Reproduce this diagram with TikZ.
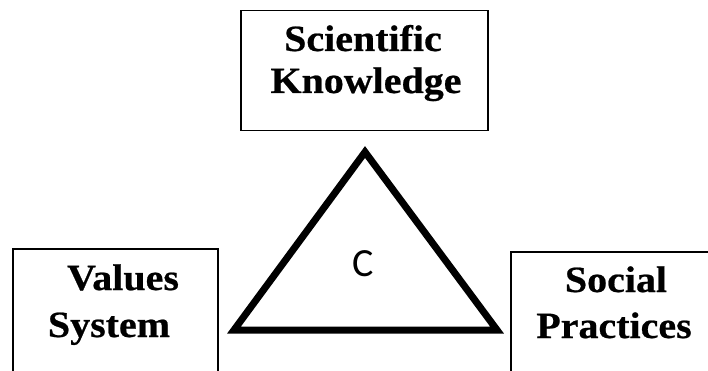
\documentclass[tikz,border=0pt]{standalone}
\usepackage{fontspec}
\setmainfont{Liberation Serif}
\newfontfamily\lblfont{Liberation Serif}[FakeStretch=1.08,FakeBold=0.6]
\newfontfamily\cfont{Carlito}
\begin{document}
\begin{tikzpicture}[x=1pt,y=-1pt,
  boxstyle/.style={draw=black,line width=1.8pt,rectangle,inner sep=0pt},
  lbl/.style={anchor=base,inner sep=0pt,font=\lblfont\bfseries\fontsize{37}{44}\selectfont},
  tri/.style={draw=black,line width=7pt,line join=miter}]
\clip (0,0) rectangle (708,371);
\fill[white] (0,0) rectangle (708,371);
% boxes
\node[boxstyle,minimum width=247pt,minimum height=120pt] (sk) at (364.5,70.5) {};
\node[boxstyle,minimum width=205pt,minimum height=160pt] (vs) at (115.5,329) {};
\node[boxstyle,minimum width=240pt,minimum height=160pt] (sp) at (631,332) {};
% labels
\node[lbl] (sk1) at (363,51) {Scientific};
\node[lbl] (sk2) at (366,93) {Knowledge};
\node[lbl] (vs1) at (123,290) {Values};
\node[lbl] (vs2) at (109,337) {System};
\node[lbl] (sp1) at (616,292) {Social};
\node[lbl] (sp2) at (614,338) {Practices};
% triangle
\coordinate (ta) at (365,152);
\coordinate (tl) at (234,330);
\coordinate (tr) at (497,330);
\draw[tri] (ta) -- (tl) -- (tr) -- cycle;
\node[font=\cfont\fontsize{40}{48}\selectfont,inner sep=0pt] (c) at (363,264) {C};
\end{tikzpicture}
\end{document}
